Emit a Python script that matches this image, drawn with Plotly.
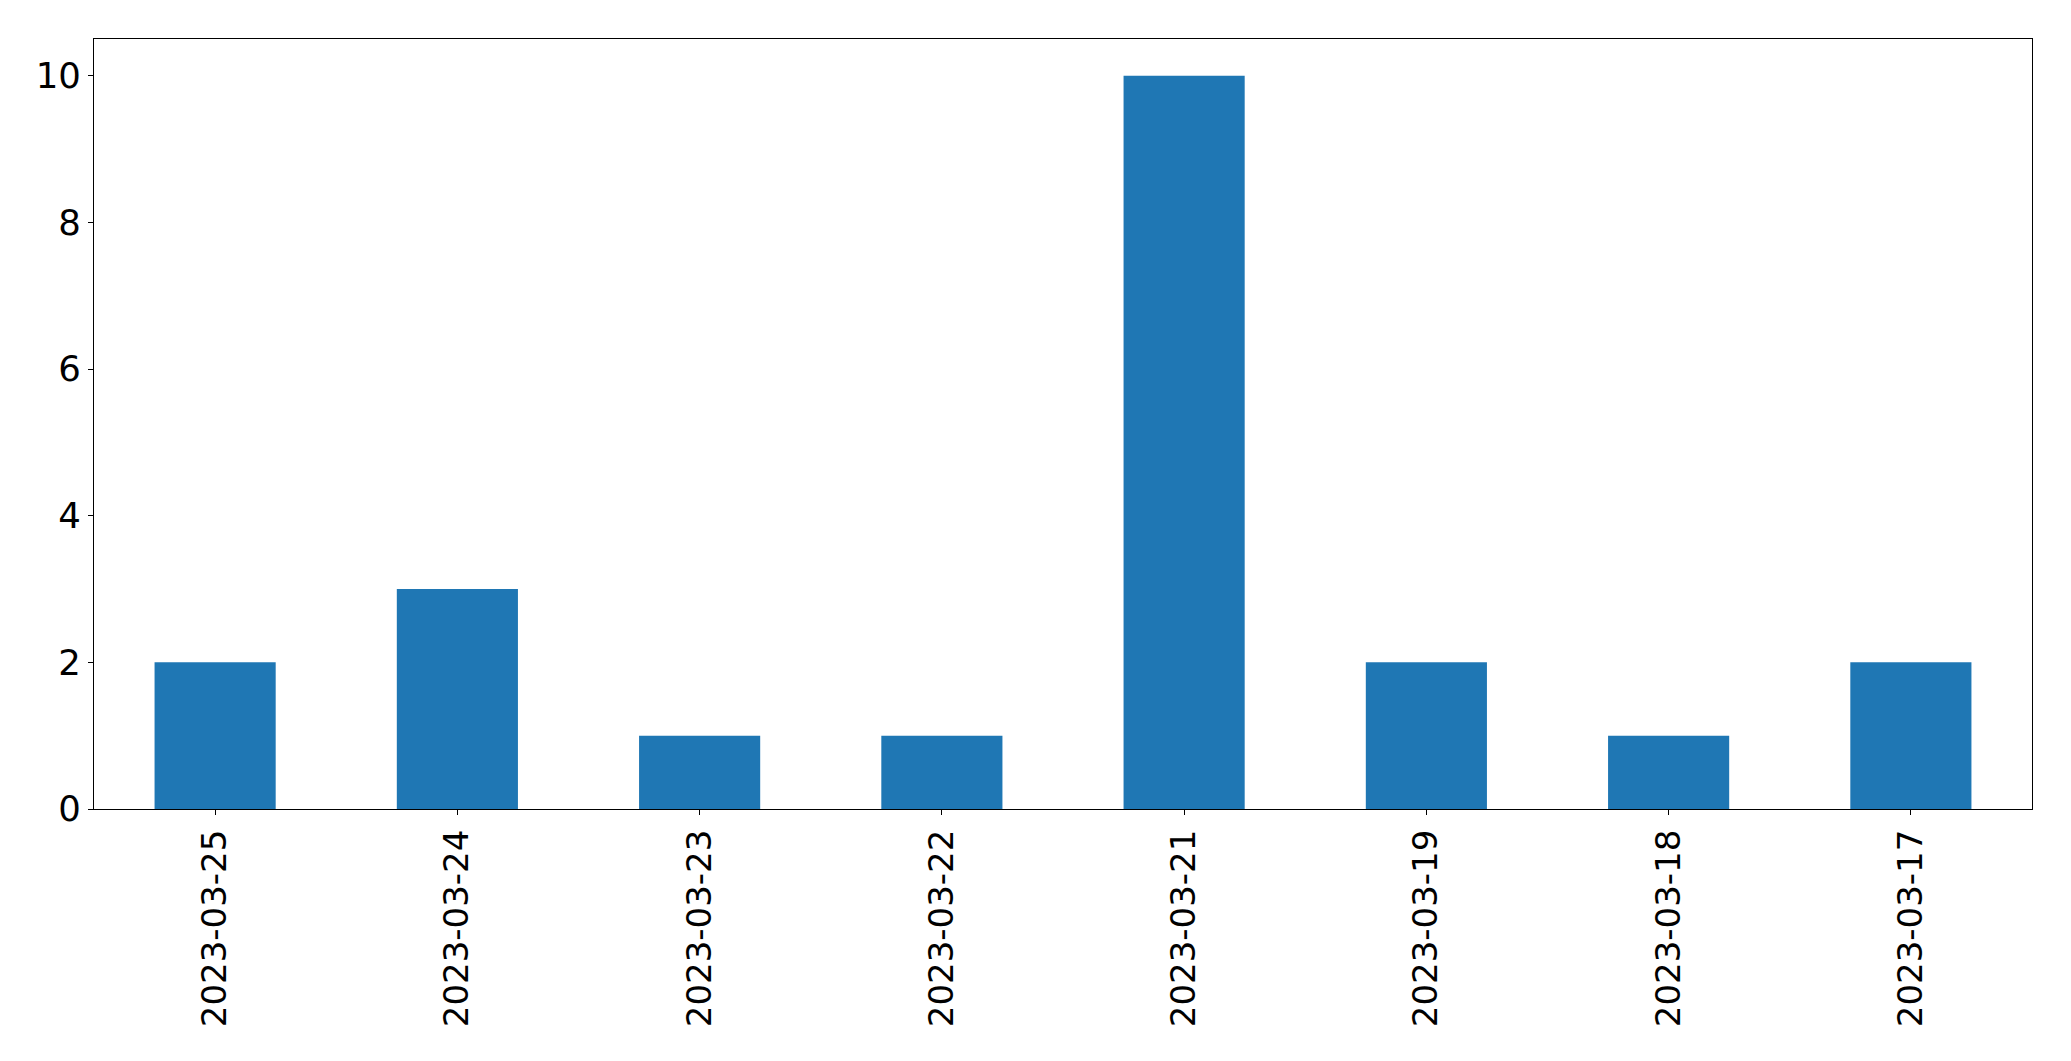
import plotly.graph_objects as go

dates = ["2023-03-25", "2023-03-24", "2023-03-23", "2023-03-22",
         "2023-03-21", "2023-03-19", "2023-03-18", "2023-03-17"]
counts = [2, 3, 1, 1, 10, 2, 1, 2]
y_ticks = [0, 2, 4, 6, 8, 10]

fig = go.Figure(go.Bar(x=list(range(len(dates))), y=counts, width=0.5,
                       marker=dict(color="#1f77b4", line=dict(width=0))))

xfont = dict(family="DejaVu Sans", size=34, color="black")
yfont = dict(family="DejaVu Sans", size=35.5, color="black")
fig.update_layout(
    width=2055, height=1045, autosize=False,
    margin=dict(l=86, r=31, t=31, b=244, pad=0),
    plot_bgcolor="white", paper_bgcolor="white",
    font=xfont, showlegend=False,
)
fig.update_xaxes(
    range=[-0.5, len(dates) - 0.5], tickmode="array",
    tickvals=list(range(len(dates))), ticktext=dates, tickangle=-90,
    showline=True, linecolor="black", linewidth=1.1, mirror=True,
    ticks="outside", ticklen=5, tickwidth=1.1, tickcolor="black",
    showgrid=False, zeroline=False, automargin=False, tickfont=xfont,
    ticklabelstandoff=1,
)
fig.update_yaxes(
    range=[0, 10.5], tickmode="array", tickvals=y_ticks,
    ticktext=[str(v) for v in y_ticks],
    showline=True, linecolor="black", linewidth=1.1, mirror=True,
    ticks="outside", ticklen=5, tickwidth=1.1, tickcolor="black",
    showgrid=False, zeroline=False, automargin=False, tickfont=yfont,
    ticklabelstandoff=0,
)
fig.write_html("out.html")
